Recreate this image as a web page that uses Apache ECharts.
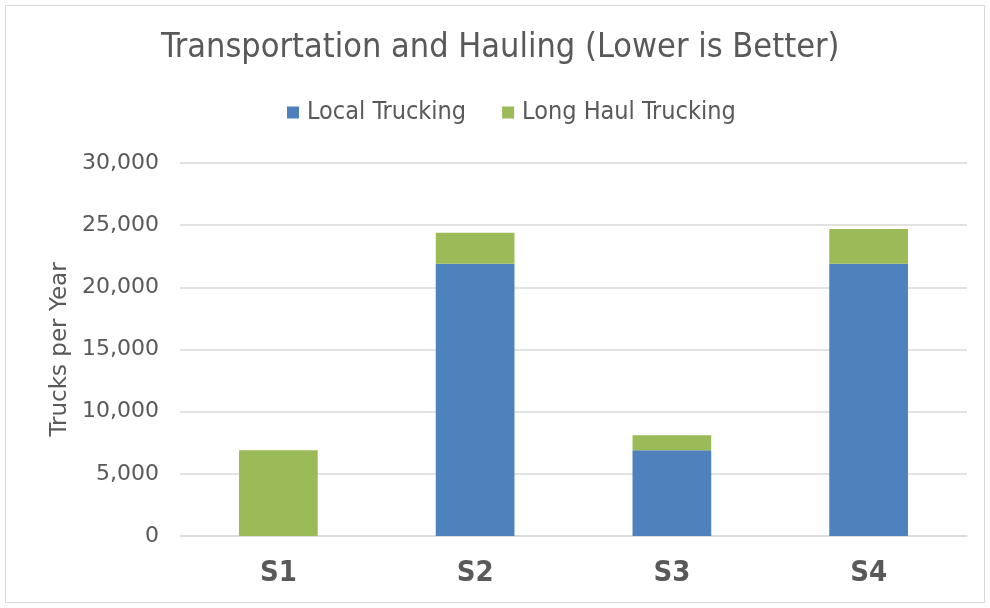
<!DOCTYPE html>
<html>
<head>
<meta charset="utf-8">
<script src="https://cdn.jsdelivr.net/npm/echarts@6/dist/echarts.min.js"></script>
<style>
  html, body { margin: 0; padding: 0; background: #fff; }
  #frame { position: absolute; left: 5px; top: 5px; width: 980px; height: 598px; border: 1px solid #d9d9d9; box-sizing: border-box; }
  #chart { width: 990px; height: 608px; }
</style>
</head>
<body>
<div id="frame"></div>
<div id="chart"></div>
<script>
// Scenario categories and annual truck counts
const categories = ['S1', 'S2', 'S3', 'S4'];
const localTrucking = [0, 21900, 6900, 21900];
const longHaulTrucking = [6900, 2500, 1200, 2800];
const yTicks = [0, 5000, 10000, 15000, 20000, 25000, 30000];

const NARROW = '"DejaVu Sans Condensed", "Liberation Sans Narrow", sans-serif';
const WIDE = '"DejaVu Sans", "Liberation Sans", sans-serif';
const TEXT = '#595959';

const chart = echarts.init(document.getElementById('chart'), null, { renderer: 'canvas' });
chart.setOption({
  animation: false,
  title: {
    text: 'Transportation and Hauling (Lower is Better)',
    left: 156,
    top: 26,
    textStyle: { fontFamily: NARROW, fontSize: 34, fontWeight: 'normal', color: TEXT }
  },
  legend: {
    top: 95,
    left: 282,
    itemWidth: 12,
    itemHeight: 12,
    itemGap: 36,
    icon: 'rect',
    textStyle: { fontFamily: NARROW, fontSize: 25, color: TEXT, padding: [0, 0, 0, 3] },
    data: ['Local Trucking', 'Long Haul Trucking']
  },
  grid: { left: 180, right: 23, top: 163, bottom: 72, containLabel: false },
  xAxis: {
    type: 'category',
    data: categories,
    axisLine: { show: true, lineStyle: { color: '#d9d9d9', width: 1.5 } },
    axisTick: { show: false },
    axisLabel: { fontFamily: NARROW, fontSize: 29, fontWeight: 'bold', color: TEXT, margin: 23 }
  },
  yAxis: {
    type: 'value',
    min: yTicks[0],
    max: yTicks[yTicks.length - 1],
    interval: yTicks[1] - yTicks[0],
    name: 'Trucks per Year',
    nameLocation: 'middle',
    nameGap: 108,
    nameTextStyle: { fontFamily: WIDE, fontSize: 23, color: TEXT },
    axisLine: { show: false },
    axisTick: { show: false },
    axisLabel: {
      fontFamily: WIDE, fontSize: 22, color: TEXT, margin: 21,
      formatter: v => v.toLocaleString('en-US')
    },
    splitLine: { lineStyle: { color: '#d9d9d9', width: 1.5 } }
  },
  series: [
    {
      name: 'Local Trucking',
      type: 'bar',
      stack: 'total',
      barWidth: '40%',
      itemStyle: { color: '#4f81bd' },
      data: localTrucking
    },
    {
      name: 'Long Haul Trucking',
      type: 'bar',
      stack: 'total',
      barWidth: '40%',
      itemStyle: { color: '#9bbb59' },
      data: longHaulTrucking
    }
  ]
});
</script>
</body>
</html>
